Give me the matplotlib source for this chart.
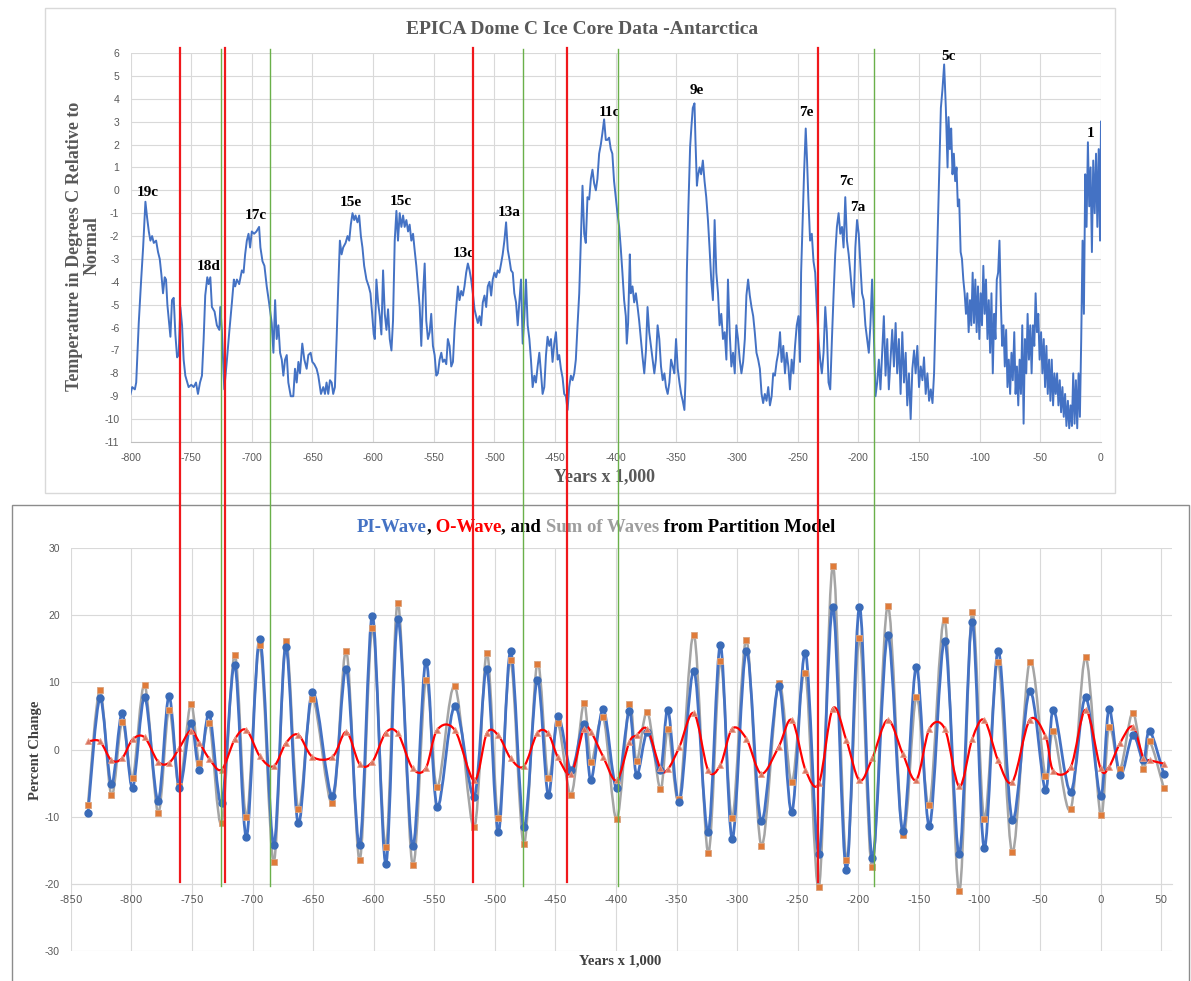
import numpy as np
import matplotlib
matplotlib.use("Agg")
from matplotlib import pyplot as plt
from matplotlib.path import Path
from matplotlib.patches import PathPatch, Rectangle
from matplotlib.lines import Line2D
from matplotlib.transforms import blended_transform_factory
from matplotlib.offsetbox import TextArea, HPacker, AnchoredOffsetbox

plt.rcParams['axes.unicode_minus'] = False

# ---- top chart: EPICA Dome C temperature, years x 1000 / deg C ----
epica_years = [
    -800.0, -798.6, -796.4, -795.3, -793.2, -791.2, -789.6, -787.7, -786.3, -784.9,
    -783.6, -782.2, -780.8, -778.9, -777.3, -775.9, -774.5, -773.2, -771.8, -770.7,
    -769.6, -768.5, -767.1, -765.8, -764.4, -763.0, -761.6, -760.3, -758.9, -757.5,
    -756.2, -754.8, -752.1, -749.9, -747.9, -746.0, -744.4, -742.7, -741.1, -739.7,
    -738.4, -736.7, -735.6, -734.2, -732.9, -730.7, -728.8, -726.8, -726.0, -724.7,
    -722.7, -720.5, -718.6, -716.4, -714.8, -713.7, -712.3, -710.4, -708.2, -706.8,
    -705.5, -704.1, -702.7, -701.4, -700.0, -698.1, -696.2, -694.0, -692.9, -691.2,
    -689.6, -687.7, -685.8, -683.6, -682.2, -680.8, -679.5, -678.1, -676.7, -675.3,
    -674.0, -672.6, -671.2, -669.9, -667.9, -665.8, -664.4, -663.0, -661.6, -660.3,
    -658.4, -656.7, -654.8, -653.4, -651.5, -650.1, -648.5, -646.6, -645.2, -643.0,
    -641.1, -639.7, -638.4, -637.0, -635.6, -634.2, -632.9, -631.5, -630.1, -628.8,
    -627.4, -626.0, -624.7, -622.7, -621.1, -619.7, -618.4, -617.0, -615.6, -614.5,
    -612.9, -611.5, -610.1, -608.8, -607.4, -605.5, -603.6, -602.2, -600.8, -599.5,
    -598.6, -597.3, -595.9, -594.5, -593.2, -591.8, -590.4, -589.0, -587.7, -586.3,
    -584.9, -583.6, -582.2, -580.8, -579.5, -578.1, -576.7, -575.3, -574.0, -572.6,
    -571.2, -569.9, -568.5, -567.1, -565.8, -564.4, -563.0, -561.6, -560.3, -558.9,
    -557.5, -556.2, -554.8, -553.4, -552.1, -550.7, -549.3, -547.9, -546.6, -545.2,
    -543.8, -542.5, -541.1, -539.7, -538.4, -537.0, -535.6, -534.2, -532.9, -531.5,
    -530.1, -528.8, -527.4, -526.0, -524.7, -523.3, -521.9, -520.5, -519.2, -517.8,
    -516.4, -515.1, -513.7, -512.3, -511.0, -509.6, -508.2, -506.8, -505.5, -504.1,
    -502.7, -501.4, -500.0, -498.6, -497.3, -495.9, -494.5, -493.2, -491.8, -490.4,
    -489.0, -487.7, -486.3, -484.9, -483.6, -482.2, -480.8, -479.5, -478.1, -476.7,
    -475.3, -474.0, -472.6, -471.2, -469.9, -468.5, -467.1, -465.8, -464.4, -463.0,
    -461.6, -460.3, -458.9, -457.5, -456.2, -454.8, -453.4, -452.1, -450.7, -449.3,
    -447.9, -446.6, -445.2, -443.8, -442.5, -441.1, -439.7, -438.4, -437.0, -435.6,
    -434.2, -432.9, -431.5, -430.1, -428.8, -427.4, -426.0, -424.7, -423.3, -421.9,
    -420.5, -419.2, -417.8, -416.4, -415.1, -413.7, -412.3, -411.0, -409.6, -408.2,
    -406.9, -405.5, -404.1, -402.8, -401.4, -400.0, -398.6, -397.2, -395.9, -394.5,
    -393.1, -391.7, -390.9, -389.8, -388.4, -387.6, -386.2, -384.8, -383.4, -382.0,
    -380.7, -379.3, -377.9, -376.5, -375.1, -373.8, -372.4, -371.0, -369.6, -368.2,
    -366.9, -365.5, -364.1, -362.7, -361.3, -359.9, -358.6, -357.2, -355.8, -354.4,
    -353.0, -351.7, -350.3, -348.9, -347.5, -346.1, -344.8, -343.4, -342.5, -341.4,
    -340.1, -338.7, -337.6, -336.5, -335.1, -334.3, -333.1, -332.3, -330.9, -329.6,
    -328.2, -326.8, -325.4, -324.0, -322.7, -321.3, -319.9, -318.5, -317.1, -315.7,
    -314.4, -313.0, -311.6, -310.2, -308.8, -307.5, -306.1, -304.7, -303.3, -301.9,
    -300.6, -299.2, -297.8, -296.4, -295.0, -293.6, -292.3, -290.9, -289.5, -288.1,
    -286.7, -285.4, -284.0, -282.6, -281.2, -279.8, -278.5, -277.1, -275.7, -274.3,
    -272.9, -271.5, -270.2, -268.8, -267.4, -266.0, -264.6, -263.3, -261.9, -260.5,
    -259.1, -257.7, -256.4, -255.0, -253.6, -252.2, -250.8, -249.4, -248.1, -247.2,
    -246.1, -244.8, -243.4, -242.3, -241.2, -239.8, -238.4, -237.0, -235.6, -234.3,
    -232.9, -231.5, -230.1, -228.7, -227.3, -226.0, -224.6, -223.2, -221.8, -220.4,
    -219.1, -217.7, -216.3, -214.9, -213.5, -212.2, -210.8, -209.4, -208.0, -206.6,
    -205.2, -203.9, -202.5, -201.1, -199.7, -198.3, -197.0, -195.6, -194.2, -192.8,
    -191.4, -190.1, -188.7, -187.3, -185.9, -184.5, -183.1, -181.8, -180.4, -179.0,
    -177.6, -176.2, -174.9, -173.5, -172.1, -170.7, -169.3, -168.0, -166.6, -165.2,
    -163.8, -162.4, -161.0, -159.7, -158.3, -156.9, -155.5, -154.1, -152.8, -151.4,
    -150.0, -148.6, -147.2, -145.9, -144.5, -143.1, -141.7, -140.3, -138.9, -137.6,
    -136.2, -134.8, -133.4, -132.0, -130.7, -129.3, -127.9, -126.5, -125.7, -124.6,
    -123.5, -122.4, -121.3, -120.2, -119.1, -118.0, -116.9, -115.7, -114.6, -113.5,
    -112.4, -111.3, -110.2, -109.1, -108.0, -106.9, -105.8, -104.7, -103.6, -102.5,
    -101.4, -100.3, -99.2, -98.1, -97.0, -95.9, -94.8, -93.6, -92.5, -91.4,
    -90.3, -89.2, -88.1, -87.0, -85.9, -84.8, -83.7, -82.6, -81.5, -80.4,
    -79.3, -78.2, -77.1, -76.0, -74.9, -73.8, -72.7, -71.5, -70.4, -69.3,
    -68.2, -67.1, -66.0, -64.9, -63.8, -62.7, -61.6, -60.5, -59.4, -58.3,
    -57.2, -56.1, -55.0, -53.9, -52.8, -51.7, -50.6, -49.4, -48.3, -47.2,
    -46.1, -45.0, -43.9, -42.8, -41.7, -40.6, -39.5, -38.4, -37.3, -36.2,
    -35.1, -34.0, -32.9, -31.8, -30.7, -29.6, -28.5, -27.3, -26.2, -25.1,
    -24.0, -22.9, -21.8, -20.7, -19.6, -18.5, -17.4, -16.3, -15.2, -14.1,
    -13.0, -11.9, -10.8, -9.7, -8.6, -7.5, -6.4, -5.2, -4.1, -3.0,
    -1.9, -0.8, 0.0,
]
epica_temp = [
    -8.9, -8.6, -8.7, -8.4, -5.8, -3.9, -2.5, -0.5, -1.2, -1.8,
    -2.2, -2.0, -2.3, -2.2, -2.7, -3.0, -3.7, -4.5, -3.8, -3.9,
    -5.0, -5.6, -6.4, -4.8, -4.7, -6.3, -7.3, -7.2, -5.1, -5.9,
    -7.4, -8.1, -8.6, -8.5, -8.6, -8.4, -8.9, -8.4, -8.1, -6.5,
    -4.6, -3.8, -4.1, -3.8, -5.1, -5.3, -5.9, -6.1, -5.1, -6.1,
    -8.7, -7.4, -6.2, -4.9, -3.9, -4.2, -3.9, -4.1, -3.5, -3.6,
    -2.8, -2.2, -1.9, -2.5, -1.8, -1.9, -1.8, -1.6, -2.5, -3.1,
    -3.3, -4.2, -4.9, -5.8, -7.1, -4.8, -6.5, -5.9, -7.1, -7.4,
    -8.1, -7.4, -7.2, -8.4, -9.0, -9.0, -7.8, -8.4, -7.5, -8.0,
    -6.7, -7.4, -7.8, -7.2, -7.1, -7.5, -7.6, -7.8, -8.1, -8.9,
    -8.6, -8.9, -8.4, -8.9, -8.3, -8.4, -8.9, -8.6, -6.5, -4.3,
    -2.2, -2.8, -2.5, -2.3, -2.0, -2.2, -1.5, -1.0, -1.3, -1.1,
    -1.4, -1.1, -2.0, -2.5, -3.3, -3.9, -4.2, -4.5, -5.4, -6.3,
    -6.5, -3.9, -4.9, -5.5, -6.3, -3.5, -5.4, -6.1, -5.2, -6.5,
    -7.0, -5.7, -2.2, -0.9, -2.2, -1.0, -1.6, -1.1, -1.6, -1.3,
    -1.8, -1.5, -2.2, -1.9, -2.6, -3.3, -4.2, -5.1, -6.8, -4.6,
    -3.2, -5.7, -6.5, -6.2, -5.4, -6.8, -7.2, -8.1, -8.0, -7.4,
    -7.1, -7.5, -7.4, -7.6, -6.5, -6.8, -7.7, -7.5, -6.1, -5.1,
    -4.2, -4.8, -4.4, -4.6, -4.2, -3.6, -3.2, -3.5, -3.9, -4.5,
    -5.2, -5.5, -5.8, -5.5, -5.9, -4.9, -4.6, -5.1, -4.2, -4.0,
    -4.6, -3.9, -3.6, -3.8, -3.5, -3.6, -3.2, -2.8, -2.2, -1.4,
    -2.6, -3.0, -3.5, -3.6, -4.5, -4.9, -5.9, -4.9, -3.9, -6.7,
    -5.5, -3.9, -5.9, -6.5, -7.4, -8.6, -8.1, -8.4, -7.7, -7.1,
    -8.0, -8.9, -8.6, -7.2, -6.4, -6.8, -6.5, -7.5, -6.7, -6.2,
    -7.4, -7.2, -7.8, -8.2, -8.9, -9.0, -9.6, -8.6, -8.1, -8.3,
    -8.0, -7.4, -5.9, -4.5, -2.2, 0.2, -1.9, -2.3, -0.3, -0.4,
    0.5, 0.9, 0.3, 0.0, 0.5, 1.6, 2.0, 2.5, 3.1, 2.2,
    2.2, 2.3, 1.8, 1.6, 0.4, -0.3, -1.0, -1.6, -2.5, -3.6,
    -4.8, -5.5, -6.7, -5.8, -2.8, -4.5, -4.2, -4.9, -4.5, -5.1,
    -5.7, -6.5, -7.3, -8.0, -7.0, -5.1, -6.2, -6.8, -7.4, -8.0,
    -7.4, -5.9, -6.5, -7.7, -8.3, -8.0, -8.6, -8.9, -8.4, -7.4,
    -7.7, -8.0, -6.5, -7.8, -8.4, -8.9, -9.2, -9.6, -8.3, -3.6,
    -0.7, 1.9, 2.8, 3.6, 3.8, 2.2, 0.2, 0.6, 1.0, 0.7,
    1.3, 0.4, -0.3, -1.3, -2.5, -3.9, -4.8, -1.3, -3.6, -4.5,
    -5.9, -5.4, -6.5, -6.2, -7.4, -3.9, -6.2, -7.7, -7.1, -8.0,
    -5.9, -6.5, -7.4, -8.0, -7.5, -6.5, -4.6, -3.9, -4.6, -5.1,
    -5.5, -6.2, -7.1, -7.4, -7.8, -8.9, -9.3, -8.9, -9.2, -8.6,
    -9.4, -9.0, -8.0, -8.1, -7.5, -7.1, -6.2, -7.5, -6.8, -8.0,
    -7.1, -7.7, -8.7, -7.4, -8.0, -6.8, -5.9, -5.5, -7.5, -3.6,
    -1.6, 0.7, 2.7, 1.3, -0.4, -2.2, -1.9, -3.1, -3.6, -5.1,
    -6.5, -7.4, -8.0, -7.1, -5.1, -6.2, -8.4, -8.7, -6.5, -4.5,
    -2.8, -1.6, -1.0, -1.9, -1.6, -2.5, -0.3, -2.2, -2.8, -3.6,
    -4.5, -5.1, -2.5, -1.3, -1.9, -3.3, -4.5, -4.8, -5.9, -6.5,
    -7.1, -5.9, -3.9, -6.2, -9.0, -8.4, -7.4, -8.7, -7.1, -5.5,
    -8.1, -6.5, -8.7, -7.4, -6.1, -7.7, -5.8, -8.0, -6.5, -8.9,
    -6.2, -8.4, -7.1, -9.4, -8.0, -10.0, -7.8, -7.0, -8.0, -6.8,
    -8.6, -7.7, -8.3, -7.3, -8.9, -8.0, -9.2, -8.7, -9.3, -8.0,
    -5.1, -2.2, 0.7, 3.6, 4.4, 5.5, 3.6, 1.0, 3.2, 1.8,
    2.7, 0.7, 1.6, 0.4, 1.0, -0.7, -0.4, -2.7, -3.0, -3.9,
    -4.5, -5.4, -4.5, -6.2, -4.8, -5.9, -3.6, -5.8, -3.9, -6.2,
    -4.2, -6.5, -4.5, -5.9, -3.3, -5.4, -3.9, -6.5, -4.8, -7.1,
    -4.5, -8.0, -5.4, -6.5, -3.9, -3.6, -2.2, -4.8, -6.8, -5.9,
    -7.7, -6.1, -8.6, -7.4, -8.9, -7.1, -8.3, -6.2, -8.9, -7.7,
    -9.4, -7.4, -8.9, -5.9, -10.2, -6.5, -8.0, -5.4, -7.4, -5.9,
    -8.0, -5.9, -6.8, -4.5, -6.2, -5.4, -7.4, -6.2, -8.0, -6.5,
    -8.6, -6.8, -8.9, -7.4, -9.2, -7.4, -9.4, -8.0, -8.9, -8.0,
    -9.4, -8.3, -9.7, -8.6, -9.9, -8.9, -10.3, -9.2, -10.4, -9.4,
    -10.3, -8.0, -10.2, -8.3, -10.4, -8.0, -9.9, -6.5, -2.2, -5.4,
    0.7, -1.6, 2.1, -0.7, 1.0, -2.7, 1.3, -1.0, 1.6, -1.6,
    1.8, -2.2, 3.0,
]
assert len(epica_years) == len(epica_temp)

# marine isotope stage labels and where they sit (data coords)
stage_labels = ["19c", "18d", "17c", "15e", "15c", "13c", "13a",
                "11c", "9e", "7e", "7c", "7a", "5c", "1"]
stage_x = [-785.6, -735.3, -696.6, -618.3, -577.0, -525.1, -488.0,
           -405.6, -333.0, -243.2, -210.2, -200.3, -126.1, -8.2]
stage_y = [-0.1, -3.35, -1.1, -0.55, -0.5, -2.75, -0.95,
           3.4, 4.35, 3.4, 0.4, -0.75, 5.85, 2.5]

# ---- bottom chart: partition model waves ----
wave_years = [-835.8, -826, -816.5, -807.6, -799, -789, -778, -769, -760.5, -751,
              -743.8, -735.6, -725.5, -714.7, -705, -694, -682.5, -672.6, -662.3, -650.5,
              -634, -622.5, -611.5, -601, -590, -580, -567.9, -557, -547.6, -533,
              -517, -506.6, -497, -487, -476, -465, -456, -448, -437, -426.6,
              -420.5, -410.5, -399.4, -389, -383, -374, -363.4, -357, -347.6, -335.6,
              -323.9, -313.8, -304, -292.3, -280, -265.7, -254.8, -243.6, -232.4, -221,
              -209.8, -199, -188.4, -175.7, -163.3, -152, -141.2, -128.6, -116.6, -106,
              -96, -84.6, -72.7, -58.5, -45.5, -38.9, -24.6, -12.3, 0, 7,
              16, 26.6, 35.4, 40.5, 52.3]
pi_wave = [-9.4, 7.6, -5.2, 5.4, -5.7, 7.8, -7.6, 7.9, -5.7, 4.0,
           -3.0, 5.3, -8.0, 12.6, -13.0, 16.5, -14.2, 15.3, -11.0, 8.6,
           -6.9, 12.0, -14.2, 19.9, -17.0, 19.4, -14.4, 13.1, -8.5, 6.5,
           -7.0, 12.0, -12.3, 14.6, -11.6, 10.4, -6.7, 5.0, -3.1, 3.8,
           -4.5, 6.0, -5.8, 5.7, -3.8, 2.6, -3.1, 5.9, -7.8, 11.7,
           -12.3, 15.5, -13.3, 14.7, -10.7, 9.5, -9.3, 14.4, -15.5, 21.2,
           -17.9, 21.2, -16.2, 17.0, -12.1, 12.3, -11.4, 16.2, -15.6, 19.0,
           -14.7, 14.7, -10.5, 8.7, -6.0, 5.9, -6.3, 7.8, -6.9, 6.0,
           -3.8, 2.1, -1.6, 2.8, -3.7]
o_wave = [1.2, 1.2, -1.6, -1.3, 1.5, 1.8, -1.8, -2.0, 0.2, 2.8,
          1.0, -1.4, -3.0, 1.5, 2.9, -1.0, -2.5, 0.9, 2.2, -1.1,
          -1.1, 2.6, -2.2, -1.8, 2.5, 2.4, -2.8, -2.8, 2.9, 2.9,
          -4.6, 2.4, 2.1, -1.3, -2.5, 2.4, 2.4, -1.1, -3.6, 3.1,
          2.6, -1.1, -4.6, 1.1, 2.1, 3.0, -2.8, -2.9, 0.4, 5.4,
          -3.1, -2.3, 3.1, 1.6, -3.6, 0.4, 4.4, -3.0, -5.0, 6.1,
          1.4, -4.6, -1.3, 4.4, -0.6, -4.5, 3.1, 3.1, -5.5, 1.5,
          4.4, -1.6, -4.8, 4.4, 2.0, -3.2, -2.6, 5.9, -2.8, -2.6,
          0.9, 3.4, -1.3, -1.6, -2.1]
sum_wave = [-8.2, 8.8, -6.8, 4.1, -4.2, 9.6, -9.4, 5.9, -5.5, 6.8,
            -2.0, 3.9, -11.0, 14.1, -10.1, 15.5, -16.7, 16.2, -8.8, 7.5,
            -8.0, 14.6, -16.4, 18.1, -14.5, 21.8, -17.2, 10.3, -5.6, 9.4,
            -11.6, 14.4, -10.2, 13.3, -14.1, 12.8, -4.3, 3.9, -6.7, 6.9,
            -1.9, 4.9, -10.4, 6.8, -1.7, 5.6, -5.9, 3.0, -7.4, 17.1,
            -15.4, 13.2, -10.2, 16.3, -14.3, 9.9, -4.9, 11.4, -20.5, 27.3,
            -16.5, 16.6, -17.5, 21.4, -12.7, 7.8, -8.3, 19.3, -21.1, 20.5,
            -10.3, 13.1, -15.3, 13.1, -4.0, 2.7, -8.9, 13.7, -9.7, 3.4,
            -2.9, 5.5, -2.9, 1.2, -5.8]
assert len(wave_years) == len(pi_wave) == len(o_wave) == len(sum_wave)

# marker lines drawn across both charts (years x 1000)
red_marks = [-759.7, -722.5, -517.8, -440.1, -232.9]
green_marks = [-725.9, -685.4, -476.5, -398.4, -187.0]

BLUE = "#4472C4"
GRAY_TXT = "#595959"
SERIF = "Liberation Serif"
SANS = "Liberation Sans"


def smooth_path(xs, ys):
    # excel-like smoothed line: bezier segments through every point
    pts = np.column_stack([xs, ys]).astype(float)
    n = len(pts)
    verts = [pts[0]]
    codes = [Path.MOVETO]
    for i in range(n - 1):
        p0 = pts[i - 1] if i > 0 else pts[i]
        p1 = pts[i]
        p2 = pts[i + 1]
        p3 = pts[i + 2] if i + 2 < n else pts[i + 1]
        verts += [p1 + (p2 - p0) / 6.0, p2 - (p3 - p1) / 6.0, p2]
        codes += [Path.CURVE4] * 3
    return Path(verts, codes)


W, H = 1191, 981
fig = plt.figure(figsize=(W / 100, H / 100), dpi=100, facecolor="white")

# chart panels
fig.add_artist(Rectangle((45 / W, 1 - 493 / H), 1070 / W, 485 / H, transform=fig.transFigure,
                         facecolor="white", edgecolor="#D9D9D9", lw=1, zorder=-5))
fig.add_artist(Rectangle((12 / W, -0.01), 1177 / W, 1 - 505 / H + 0.01, transform=fig.transFigure,
                         facecolor="white", edgecolor="#8C8C8C", lw=1, zorder=-5))

# ---- top chart ----
ax1 = fig.add_axes([130.5 / W, 1 - 442 / H, 970.5 / W, 389 / H])
ax1.set_facecolor("none")
ax1.plot(epica_years, epica_temp, color=BLUE, lw=1.4, zorder=3)
ax1.set_xlim(-800, 0)
ax1.set_ylim(-11, 6)
ax1.set_xticks(range(-800, 1, 50))
ax1.set_yticks(range(-11, 7))
ax1.grid(color="#D9D9D9", lw=0.8)
ax1.set_axisbelow(True)
ax1.tick_params(length=0, labelsize=7.5, labelcolor=GRAY_TXT, pad=8)
for lab in ax1.get_xticklabels() + ax1.get_yticklabels():
    lab.set_family(SANS)
for s in ["top", "right", "left"]:
    ax1.spines[s].set_visible(False)
ax1.spines["bottom"].set_color("#BFBFBF")

for lab, x, y in zip(stage_labels, stage_x, stage_y):
    ax1.text(x, y, lab, ha="center", va="center", fontsize=11, fontweight="bold",
             family=SERIF, color="black", zorder=5)

fig.text(582 / W, 1 - 29 / H, "EPICA Dome C Ice Core Data -Antarctica", ha="center", va="center",
         fontsize=14, fontweight="bold", family=SERIF, color=GRAY_TXT)
fig.text(605 / W, 1 - 477 / H, "Years x 1,000", ha="center", va="center",
         fontsize=13, fontweight="bold", family=SERIF, color=GRAY_TXT)
fig.text(83 / W, 1 - 246 / H, "Temperature in Degrees C Relative to\nNormal", ha="center", va="center",
         rotation=90, multialignment="center", fontsize=13, fontweight="bold", family=SERIF,
         color=GRAY_TXT, linespacing=1.05)

# ---- bottom chart ----
ax2 = fig.add_axes([70.8 / W, 1 - 951 / H, 1101.2 / W, 403 / H])
ax2.set_facecolor("none")
ax2.set_xlim(-850, 59)
ax2.set_ylim(-30, 30)
ax2.set_xticks(range(-850, 51, 50))
ax2.set_yticks(range(-30, 31, 10))
ax2.grid(color="#D9D9D9", lw=0.8)
ax2.set_axisbelow(True)
ax2.tick_params(length=0, labelsize=7.5, labelcolor=GRAY_TXT, pad=8)
for lab in ax2.get_xticklabels() + ax2.get_yticklabels():
    lab.set_family(SANS)
for s in ["top", "right", "left"]:
    ax2.spines[s].set_visible(False)
ax2.spines["bottom"].set_position(("data", -20))
ax2.spines["bottom"].set_color("#D9D9D9")

ax2.add_patch(PathPatch(smooth_path(wave_years, sum_wave), fill=False, edgecolor="#A5A5A5", lw=1.8, zorder=3))
ax2.add_patch(PathPatch(smooth_path(wave_years, pi_wave), fill=False, edgecolor=BLUE, lw=2.0, zorder=4))
ax2.add_patch(PathPatch(smooth_path(wave_years, o_wave), fill=False, edgecolor="#FF0000", lw=1.6, zorder=5))
ax2.plot(wave_years, sum_wave, ls="none", marker="s", ms=4.2, mfc="#E07B39", mec="#D9A27E", mew=0.6, zorder=6)
ax2.plot(wave_years, pi_wave, ls="none", marker="o", ms=5.0, mfc="#3A6BB8", mec="#3A6BB8", zorder=6)
ax2.plot(wave_years, o_wave, ls="none", marker="^", ms=5.0, mfc="#D9735F", mec="#E8A08C", mew=0.6, zorder=7)

fig.text(620 / W, 1 - 961 / H, "Years x 1,000", ha="center", va="center",
         fontsize=10.5, fontweight="bold", family=SERIF, color="#404040")
fig.text(36 / W, 1 - 750 / H, "Percent Change", ha="center", va="center", rotation=90,
         fontsize=10.5, fontweight="bold", family=SERIF, color="#404040")

parts = [("PI-Wave", BLUE), (",", "black"), (" O-Wave", "#FF0000"), (", and ", "black"),
         ("Sum of Waves", "#9E9E9E"), (" from Partition Model", "black")]
boxes = [TextArea(t, textprops=dict(color=c, fontsize=13.5, fontweight="bold", family=SERIF))
         for t, c in parts]
title_box = AnchoredOffsetbox(loc="center", child=HPacker(children=boxes, align="baseline", pad=0, sep=0),
                              pad=0, borderpad=0, frameon=False,
                              bbox_to_anchor=(596 / W, 1 - 527 / H), bbox_transform=fig.transFigure)
fig.add_artist(title_box)

# vertical marker lines spanning both panels
trans = blended_transform_factory(ax2.transData, fig.transFigure)
for x in red_marks:
    fig.add_artist(Line2D([x, x], [1 - 48 / H, 1 - 882 / H], transform=trans,
                          color="#F0181C", lw=1.6, zorder=20))
for x in green_marks:
    fig.add_artist(Line2D([x, x], [1 - 49 / H, 1 - 886 / H], transform=trans,
                          color="#6AB04A", lw=1.0, zorder=20))

fig.savefig("out.png", dpi=100, facecolor="white")
